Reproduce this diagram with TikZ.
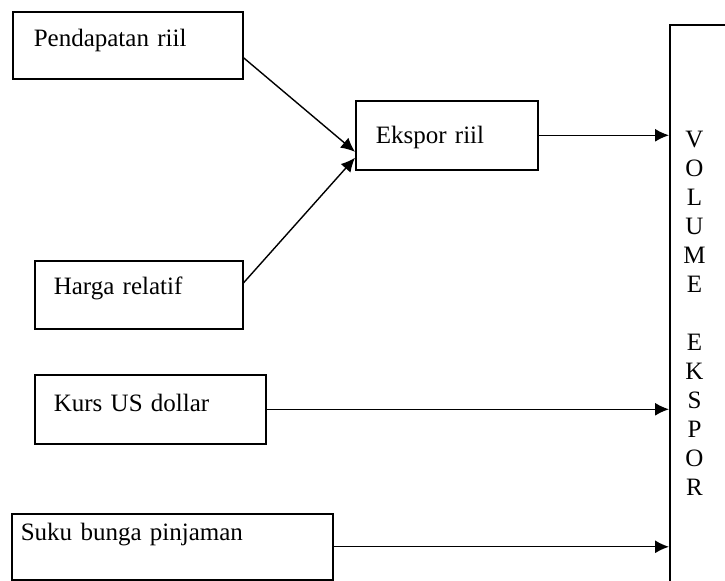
\documentclass[tikz,border=0pt]{standalone}
\usepackage{fontspec}
\setmainfont{Liberation Serif}
\usetikzlibrary{arrows.meta}

\begin{document}
\begin{tikzpicture}[x=0.5pt,y=-0.5pt,
        kotak/.style={draw, line width=0.8pt, anchor=north west, inner ysep=0pt,
            align=left, text height=8.6pt, font=\fontsize{12.5}{15}\selectfont},
        panah/.style={line width=0.7pt, -{Latex[length=7pt,width=6.5pt]}}]
    \useasboundingbox (0,0) rectangle (725,581);

    % kotak variabel
    \node[kotak, text width=94pt, inner xsep=10.5pt, minimum height=33.5pt, text depth=7.8pt]
        (pend) at (12,11) {Pendapatan riil};
    \node[kotak, text width=71pt, inner xsep=10pt, minimum height=34.5pt, text depth=0.8pt]
        (ekspor) at (355,100) {Ekspor riil};
    \node[kotak, text width=85pt, inner xsep=9.5pt, minimum height=34pt, text depth=9.3pt]
        (harga) at (34,260) {Harga relatif};
    \node[kotak, text width=96.5pt, inner xsep=9.5pt, minimum height=34.5pt, text depth=6.8pt]
        (kurs) at (34,374) {Kurs US dollar};
    \node[kotak, text width=151.5pt, inner xsep=4.5pt, minimum height=33pt, text depth=14.8pt]
        (suku) at (11,513) {Suku bunga pinjaman};

    % kotak volume ekspor
    \node[draw, line width=0.8pt, anchor=north west, minimum width=60pt, minimum height=300pt]
        (vol) at (669,24) {};
    \node[align=center, inner sep=0pt, font=\fontsize{12.5}{14.5}\selectfont]
        (volteks) at (694.5,313) {V\\O\\L\\U\\M\\E\\[14.5pt]E\\K\\S\\P\\O\\R};

    % panah
    \draw[panah] ([yshift=-6.25pt]pend.east) -- ([yshift=-8.25pt]ekspor.west);
    \draw[panah] ([yshift=6pt]harga.east) -- ([yshift=-11.25pt]ekspor.west);
    \draw[panah] (ekspor.east) -- (ekspor.east -| vol.west);
    \draw[panah] (kurs.east) -- (kurs.east -| vol.west);
    \draw[panah] (suku.east) -- (suku.east -| vol.west);
\end{tikzpicture}
\end{document}
